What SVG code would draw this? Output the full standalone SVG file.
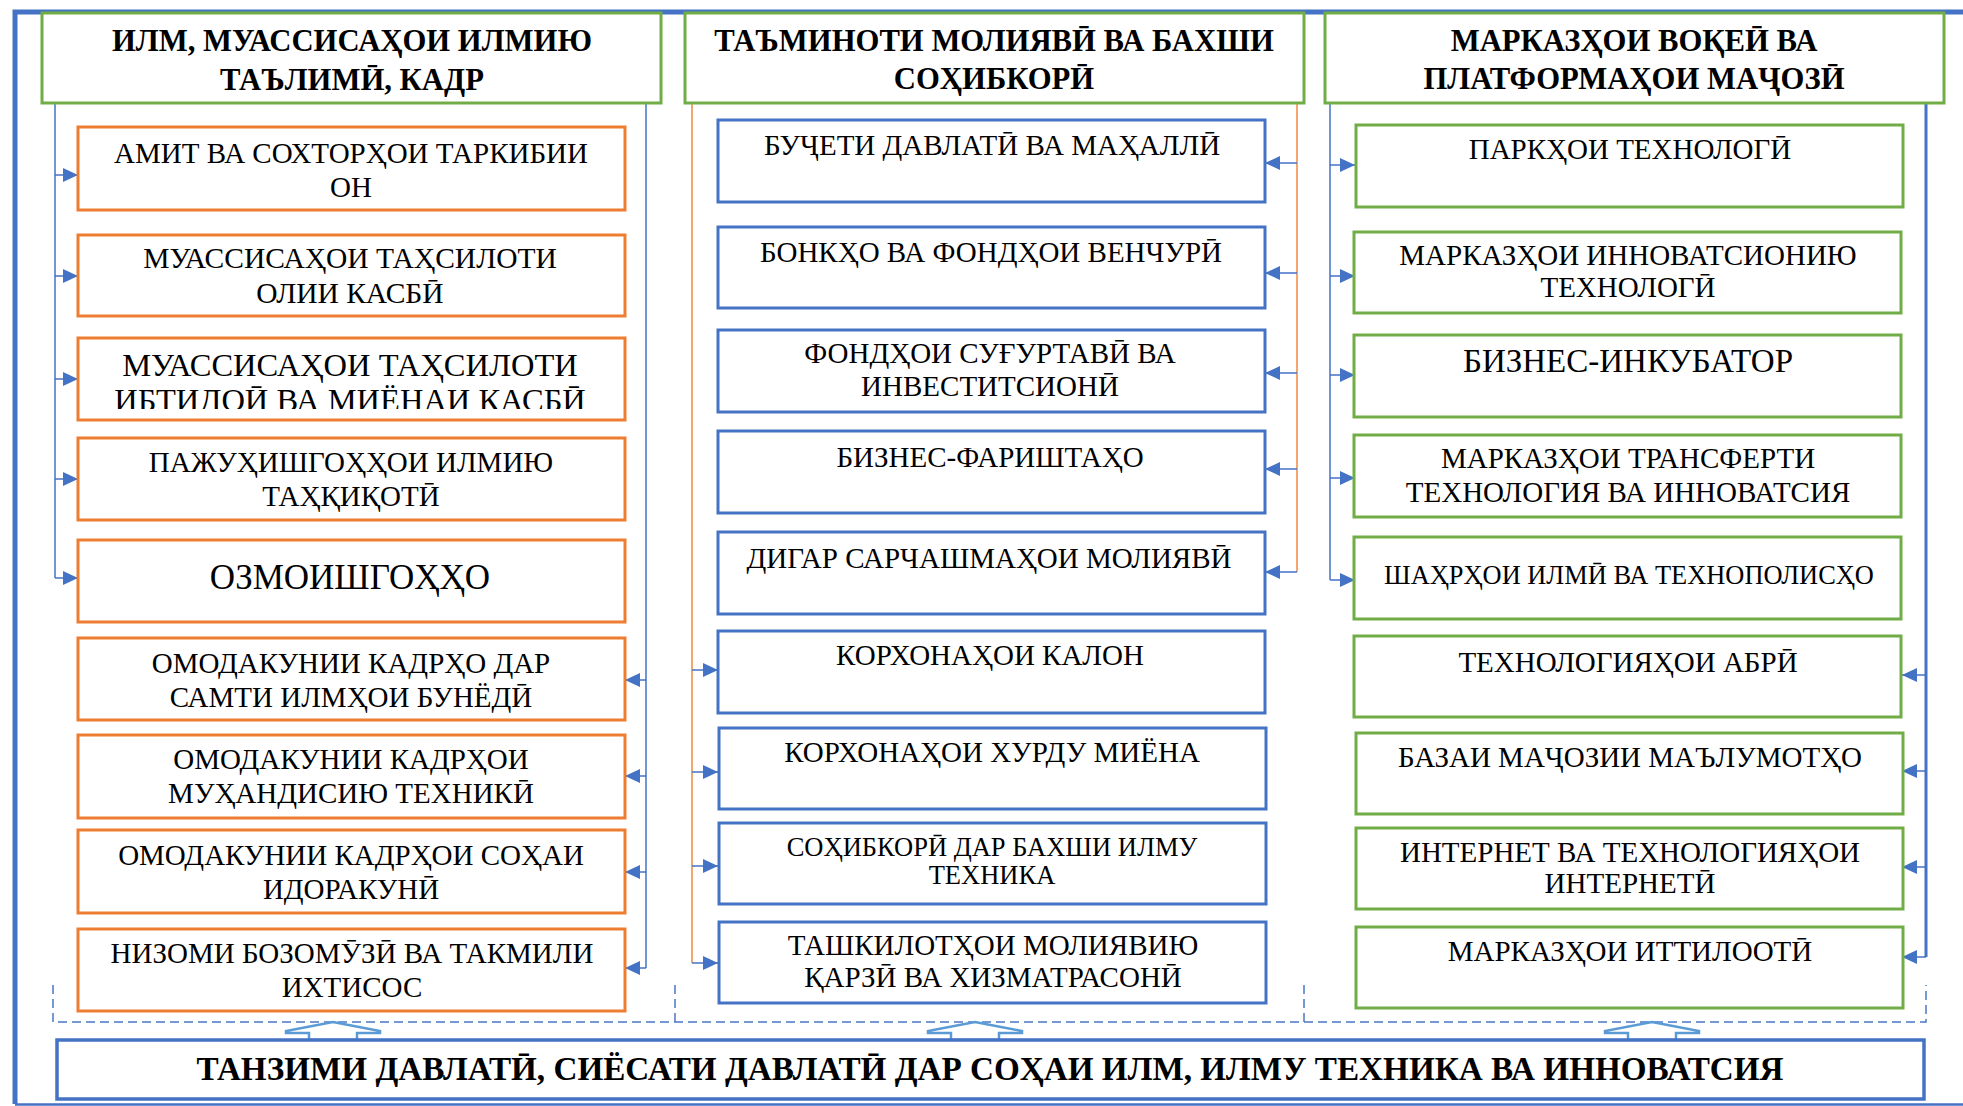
<svg xmlns="http://www.w3.org/2000/svg" width="1963" height="1106" viewBox="0 0 1963 1106">
<style>
.t{font-family:"Liberation Serif","Times New Roman",serif;font-size:29px;fill:#000;text-anchor:middle}
.b{font-weight:bold;font-size:30.7px}
.hd{fill:#fff;stroke:#70AD47;stroke-width:3}
.or{fill:#fff;stroke:#ED7D31;stroke-width:3}
.bl{fill:#fff;stroke:#4472C4;stroke-width:3}
.gr{fill:#fff;stroke:#70AD47;stroke-width:3}
.c{fill:none;stroke:#4472C4;stroke-width:1.5}
.co{fill:none;stroke:#F0883E;stroke-width:1.5}
.a{fill:none;stroke:#4472C4;stroke-width:1.5;marker-end:url(#ah)}
.ds{fill:none;stroke:#4A78C8;stroke-width:1.5;stroke-dasharray:9 5}
.ba{fill:#fff;stroke:#5B9BD5;stroke-width:2.5;stroke-linejoin:miter}
</style>
<defs>
<marker id="ah" markerUnits="userSpaceOnUse" markerWidth="15" markerHeight="14" refX="15" refY="7" orient="auto">
<path d="M0,0 L15,7 L0,14 Z" fill="#4472C4"/>
</marker>
<clipPath id="clip3"><rect x="78" y="338" width="547" height="71"/></clipPath>
</defs>
<rect width="1963" height="1106" fill="#fff"/>
<g id="frame">
<path d="M15,1104 V12 H1975" fill="none" stroke="#4472C4" stroke-width="5"/>
<path d="M15,1104.5 H1975" fill="none" stroke="#4472C4" stroke-width="2.5"/>
</g>
<g id="connectors">
<path class="c" d="M55,103 V578"/>
<path class="a" d="M55,175 H78"/>
<path class="a" d="M55,276 H78"/>
<path class="a" d="M55,379 H78"/>
<path class="a" d="M55,479 H78"/>
<path class="a" d="M55,578 H78"/>
<path class="c" d="M646,103 V968"/>
<path class="a" d="M646,680 H625"/>
<path class="a" d="M646,776 H625"/>
<path class="a" d="M646,872 H625"/>
<path class="a" d="M646,968 H625"/>
<path class="co" d="M692,103 V963"/>
<path class="a" d="M692,670 H718"/>
<path class="a" d="M692,772 H718"/>
<path class="a" d="M692,866 H718"/>
<path class="a" d="M692,963 H718"/>
<path class="co" d="M1297,103 V572"/>
<path class="a" d="M1297,163 H1265"/>
<path class="a" d="M1297,273 H1265"/>
<path class="a" d="M1297,373 H1265"/>
<path class="a" d="M1297,469 H1265"/>
<path class="a" d="M1297,572 H1265"/>
<path class="c" d="M1330,103 V580" stroke-width="2"/>
<path class="a" d="M1330,165 H1355"/>
<path class="a" d="M1330,276 H1355"/>
<path class="a" d="M1330,375 H1355"/>
<path class="a" d="M1330,478 H1355"/>
<path class="a" d="M1330,580 H1355"/>
<path class="c" d="M1926,103 V957" style="stroke-width:3"/>
<path class="a" d="M1926,675 H1902"/>
<path class="a" d="M1926,771 H1902"/>
<path class="a" d="M1926,867 H1902"/>
<path class="a" d="M1926,957 H1902"/>
<path class="ds" d="M53,985 V1022 H1926 V985"/>
<path class="ds" d="M675,985 V1022"/>
<path class="ds" d="M1304,985 V1022"/>
<path class="ba" d="M333,1022 L380,1031 V1033 H357 V1040 H309 V1033 H286 V1031 Z"/>
<path class="ba" d="M975,1022 L1022,1031 V1033 H999 V1040 H951 V1033 H928 V1031 Z"/>
<path class="ba" d="M1652,1022 L1699,1031 V1033 H1676 V1040 H1628 V1033 H1605 V1031 Z"/>
</g>
<g id="h1"><rect class="hd" x="42" y="13" width="619" height="90"/>
<text class="t b" x="352" y="51">ИЛМ, МУАССИСАҲОИ ИЛМИЮ</text>
<text class="t b" x="352" y="90">ТАЪЛИМӢ, КАДР</text></g>
<g id="h2"><rect class="hd" x="685" y="13" width="619" height="90"/>
<text class="t b" x="994" y="51">ТАЪМИНОТИ МОЛИЯВӢ ВА БАХШИ</text>
<text class="t b" x="994" y="89">СОҲИБКОРӢ</text></g>
<g id="h3"><rect class="hd" x="1325" y="13" width="619" height="90"/>
<text class="t b" x="1634" y="51">МАРКАЗҲОИ ВОҚЕӢ ВА</text>
<text class="t b" x="1634" y="89">ПЛАТФОРМАҲОИ МАҶОЗӢ</text></g>

<g id="c1n1"><rect class="or" x="78" y="127" width="547" height="83"/>
<text class="t" x="351" y="163">АМИТ ВА СОХТОРҲОИ ТАРКИБИИ</text>
<text class="t" x="351" y="197">ОН</text></g>
<g id="c1n2"><rect class="or" x="78" y="235" width="547" height="81"/>
<text class="t" x="350" y="268" style="font-size:29.5px">МУАССИСАҲОИ ТАҲСИЛОТИ</text>
<text class="t" x="350" y="303" style="font-size:29.5px">ОЛИИ КАСБӢ</text></g>
<g id="c1n3"><rect class="or" x="78" y="338" width="547" height="82"/>
<g clip-path="url(#clip3)">
<text class="t" x="350" y="376" style="font-size:32.5px">МУАССИСАҲОИ ТАҲСИЛОТИ</text>
<text class="t" x="350" y="411" style="font-size:32.5px">ИБТИДОӢ ВА МИЁНАИ КАСБӢ</text></g></g>
<g id="c1n4"><rect class="or" x="78" y="438" width="547" height="82"/>
<text class="t" x="351" y="472">ПАЖУҲИШГОҲҲОИ ИЛМИЮ</text>
<text class="t" x="351" y="506">ТАҲҚИҚОТӢ</text></g>
<g id="c1n5"><rect class="or" x="78" y="540" width="547" height="82"/>
<text class="t" x="350" y="589" style="font-size:35px">ОЗМОИШГОҲҲО</text></g>
<g id="c1n6"><rect class="or" x="78" y="638" width="547" height="82"/>
<text class="t" x="351" y="673">ОМОДАКУНИИ КАДРҲО ДАР</text>
<text class="t" x="351" y="707">САМТИ ИЛМҲОИ БУНЁДӢ</text></g>
<g id="c1n7"><rect class="or" x="78" y="735" width="547" height="83"/>
<text class="t" x="351" y="769">ОМОДАКУНИИ КАДРҲОИ</text>
<text class="t" x="351" y="803">МУҲАНДИСИЮ ТЕХНИКӢ</text></g>
<g id="c1n8"><rect class="or" x="78" y="830" width="547" height="83"/>
<text class="t" x="351" y="865">ОМОДАКУНИИ КАДРҲОИ СОҲАИ</text>
<text class="t" x="351" y="899">ИДОРАКУНӢ</text></g>
<g id="c1n9"><rect class="or" x="78" y="929" width="547" height="82"/>
<text class="t" x="352" y="963">НИЗОМИ БОЗОМӮЗӢ ВА ТАКМИЛИ</text>
<text class="t" x="352" y="997">ИХТИСОС</text></g>

<g id="c2n1"><rect class="bl" x="718" y="120" width="547" height="82"/>
<text class="t" x="992" y="155">БУҶЕТИ ДАВЛАТӢ ВА МАҲАЛЛӢ</text></g>
<g id="c2n2"><rect class="bl" x="718" y="227" width="547" height="81"/>
<text class="t" x="991" y="262">БОНКҲО ВА ФОНДҲОИ ВЕНЧУРӢ</text></g>
<g id="c2n3"><rect class="bl" x="718" y="330" width="547" height="82"/>
<text class="t" x="990" y="363">ФОНДҲОИ СУҒУРТАВӢ ВА</text>
<text class="t" x="990" y="396">ИНВЕСТИТСИОНӢ</text></g>
<g id="c2n4"><rect class="bl" x="718" y="431" width="547" height="82"/>
<text class="t" x="990" y="467">БИЗНЕС-ФАРИШТАҲО</text></g>
<g id="c2n5"><rect class="bl" x="718" y="532" width="547" height="82"/>
<text class="t" x="989" y="568">ДИГАР САРЧАШМАҲОИ МОЛИЯВӢ</text></g>
<g id="c2n6"><rect class="bl" x="718" y="631" width="547" height="82"/>
<text class="t" x="990" y="665">КОРХОНАҲОИ КАЛОН</text></g>
<g id="c2n7"><rect class="bl" x="719" y="728" width="547" height="81"/>
<text class="t" x="992" y="762">КОРХОНАҲОИ ХУРДУ МИЁНА</text></g>
<g id="c2n8"><rect class="bl" x="719" y="823" width="547" height="81"/>
<text class="t" x="992" y="856" style="font-size:26.5px">СОҲИБКОРӢ ДАР БАХШИ ИЛМУ</text>
<text class="t" x="992" y="884" style="font-size:26.5px">ТЕХНИКА</text></g>
<g id="c2n9"><rect class="bl" x="719" y="922" width="547" height="81"/>
<text class="t" x="993" y="955">ТАШКИЛОТҲОИ МОЛИЯВИЮ</text>
<text class="t" x="993" y="987">ҚАРЗӢ ВА ХИЗМАТРАСОНӢ</text></g>

<g id="c3n1"><rect class="gr" x="1356" y="125" width="547" height="82"/>
<text class="t" x="1630" y="159">ПАРКҲОИ ТЕХНОЛОГӢ</text></g>
<g id="c3n2"><rect class="gr" x="1354" y="232" width="547" height="81"/>
<text class="t" x="1628" y="265">МАРКАЗҲОИ ИННОВАТСИОНИЮ</text>
<text class="t" x="1628" y="297">ТЕХНОЛОГӢ</text></g>
<g id="c3n3"><rect class="gr" x="1354" y="335" width="547" height="82"/>
<text class="t" x="1628" y="372" style="font-size:33px">БИЗНЕС-ИНКУБАТОР</text></g>
<g id="c3n4"><rect class="gr" x="1354" y="435" width="547" height="82"/>
<text class="t" x="1628" y="468">МАРКАЗҲОИ ТРАНСФЕРТИ</text>
<text class="t" x="1628" y="502">ТЕХНОЛОГИЯ ВА ИННОВАТСИЯ</text></g>
<g id="c3n5"><rect class="gr" x="1354" y="537" width="547" height="82"/>
<text class="t" x="1629" y="584" style="font-size:26.4px">ШАҲРҲОИ ИЛМӢ ВА ТЕХНОПОЛИСҲО</text></g>
<g id="c3n6"><rect class="gr" x="1354" y="636" width="547" height="81"/>
<text class="t" x="1628" y="672">ТЕХНОЛОГИЯҲОИ АБРӢ</text></g>
<g id="c3n7"><rect class="gr" x="1356" y="733" width="547" height="81"/>
<text class="t" x="1630" y="767">БАЗАИ МАҶОЗИИ МАЪЛУМОТҲО</text></g>
<g id="c3n8"><rect class="gr" x="1356" y="828" width="547" height="81"/>
<text class="t" x="1630" y="862">ИНТЕРНЕТ ВА ТЕХНОЛОГИЯҲОИ</text>
<text class="t" x="1630" y="893">ИНТЕРНЕТӢ</text></g>
<g id="c3n9"><rect class="gr" x="1356" y="927" width="547" height="81"/>
<text class="t" x="1630" y="961">МАРКАЗҲОИ ИТТИЛООТӢ</text></g>

<g id="bottom"><rect fill="#fff" stroke="#4472C4" stroke-width="3.5" x="57" y="1040" width="1867" height="59"/>
<text class="t b" x="990" y="1080" style="font-size:33.2px">ТАНЗИМИ ДАВЛАТӢ, СИЁСАТИ ДАВЛАТӢ ДАР СОҲАИ ИЛМ, ИЛМУ ТЕХНИКА ВА ИННОВАТСИЯ</text></g>
</svg>
